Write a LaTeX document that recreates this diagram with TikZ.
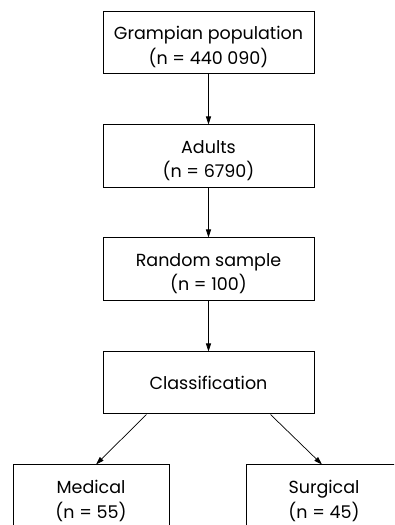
\documentclass[tikz,border=0pt]{standalone}
\usepackage{fontspec}
\setmainfont{Poppins}
\usetikzlibrary{arrows.meta}
\newcommand{\boxtopstrut}{\rule{0pt}{21pt}}
\begin{document}
\begin{tikzpicture}[x=1pt,y=1pt,
  box/.style={draw=black,line width=1pt,fill=white,align=center,inner sep=0pt,
    minimum width=211pt,minimum height=62pt,font=\fontsize{17.5}{24.5}\selectfont},
  smallbox/.style={box,minimum width=156pt,minimum height=64pt},
  arr/.style={line width=0.7pt,-{Triangle[length=8pt,width=5pt]}}]
\useasboundingbox (0,0) rectangle (394,525);
\fill[white] (0,0) rectangle (394,525);
\clip (0,0) rectangle (394,525);
\node[box] (pop) at (208.5,482) {\boxtopstrut Grampian population\\(n = 440 090)};
\node[box,minimum height=63pt] (adu) at (208.5,368.5) {\boxtopstrut Adults\\(n = 6790)};
\node[box,minimum height=63pt] (ran) at (208.5,255.5) {\boxtopstrut Random sample\\(n = 100)};
\node[box] (cls) at (208.5,142) {Classification};
\node[smallbox] (med) at (91,28) {\boxtopstrut Medical\\(n = 55)};
\node[smallbox] (sur) at (324,28) {\boxtopstrut Surgical\\(n = 45)};
\draw[arr] (pop.south) -- (adu.north);
\draw[arr] (adu.south) -- (ran.north);
\draw[arr] (ran.south) -- (cls.north);
\draw[arr] ([xshift=44pt]cls.south west) -- ([xshift=5pt]med.north);
\draw[arr] ([xshift=-44pt]cls.south east) -- ([xshift=-2pt]sur.north);
\end{tikzpicture}
\end{document}
